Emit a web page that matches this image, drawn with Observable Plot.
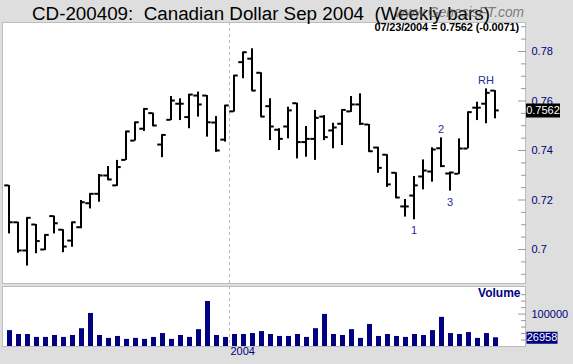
<!DOCTYPE html>
<html><head><meta charset="utf-8">
<script src="https://cdn.jsdelivr.net/npm/d3@7"></script>
<script src="https://cdn.jsdelivr.net/npm/@observablehq/plot@0.6"></script>
<style>
html,body{margin:0;padding:0;background:#dedede;}
#chart{position:relative;width:573px;height:364px;background:#dedede;overflow:hidden;font-family:"Liberation Sans",Arial,sans-serif;}
#price,#volume{position:absolute;left:0;width:573px;}
#price svg,#volume svg{display:block;}
#price{top:0;} #volume{top:283px;}
.title{position:absolute;left:32px;top:4px;font-size:18.8px;line-height:19px;white-space:pre;color:#000;z-index:2;}
.wm{position:absolute;left:395px;top:5.5px;font-size:13.8px;line-height:14px;font-style:italic;color:rgba(90,90,90,0.75);white-space:pre;z-index:3;}
.hdr{position:absolute;right:54px;top:21.5px;font-size:11px;line-height:11px;font-weight:bold;white-space:pre;color:#000;z-index:2;letter-spacing:-0.15px;}
</style></head>
<body>
<div id="chart">
  <div id="price"></div>
  <div id="volume"></div>
  <div class="title">CD-200409:  Canadian Dollar Sep 2004  (Weekly bars)</div>
  <div class="wm">www.GenesisFT.com</div>
  <div class="hdr"></div>
</div>
<script>
// ---- data (weekly bars, Jul 2003 – 07/23/2004) ----
const lastDate = "07/23/2004";
const opens = [0.7259,0.7110,0.6996,0.7101,0.7000,0.7135,0.7080,0.7036,0.7090,0.7187,
  0.7225,0.7299,0.7259,0.7362,0.7440,0.7488,0.7551,0.7424,0.7524,0.7589,
  0.7535,0.7622,0.7622,0.7513,0.7444,0.7558,0.7757,0.7771,0.7714,0.7579,
  0.7484,0.7497,0.7591,0.7434,0.7447,0.7537,0.7481,0.7508,0.7558,0.7586,
  0.7505,0.7412,0.7383,0.7310,0.7174,0.7218,0.7295,0.7315,0.7409,0.7307,
  0.7306,0.7408,0.7573,0.7589,0.7642];
const highs = [0.7259,0.7110,0.7128,0.7101,0.7059,0.7135,0.7080,0.7110,0.7198,0.7225,
  0.7303,0.7335,0.7360,0.7477,0.7514,0.7568,0.7551,0.7463,0.7618,0.7609,
  0.7626,0.7636,0.7622,0.7537,0.7582,0.7703,0.7797,0.7811,0.7714,0.7609,
  0.7488,0.7575,0.7591,0.7497,0.7562,0.7541,0.7510,0.7564,0.7618,0.7629,
  0.7505,0.7413,0.7383,0.7310,0.7202,0.7295,0.7362,0.7411,0.7451,0.7312,
  0.7447,0.7555,0.7595,0.7649,0.7642];
const lows = [0.7063,0.6985,0.6933,0.6983,0.6996,0.7063,0.6987,0.7009,0.7084,0.7164,
  0.7191,0.7279,0.7255,0.7360,0.7438,0.7477,0.7497,0.7371,0.7521,0.7521,
  0.7488,0.7535,0.7454,0.7393,0.7434,0.7555,0.7690,0.7640,0.7535,0.7440,
  0.7400,0.7447,0.7366,0.7373,0.7360,0.7440,0.7407,0.7420,0.7554,0.7501,
  0.7393,0.7308,0.7251,0.7206,0.7131,0.7120,0.7241,0.7272,0.7331,0.7236,
  0.7303,0.7407,0.7521,0.7508,0.7528];
const closes = [0.7110,0.6996,0.7128,0.7034,0.7059,0.7106,0.7012,0.7110,0.7191,0.7225,
  0.7299,0.7283,0.7333,0.7477,0.7514,0.7568,0.7501,0.7463,0.7602,0.7589,
  0.7626,0.7586,0.7514,0.7400,0.7582,0.7703,0.7797,0.7642,0.7537,0.7497,
  0.7447,0.7562,0.7434,0.7447,0.7532,0.7454,0.7493,0.7564,0.7586,0.7508,
  0.7397,0.7330,0.7263,0.7210,0.7174,0.7259,0.7319,0.7404,0.7337,0.7311,
  0.7408,0.7555,0.7573,0.7633,0.7562];
const volumes = [49000,37000,37000,28000,28000,34000,28000,34000,55000,102000,
  34000,25000,31000,22000,25000,22000,28000,40000,22000,34000,
  28000,52000,139000,34000,28000,37000,37000,40000,46000,37000,
  31000,31000,37000,28000,55000,99000,37000,34000,52000,25000,
  68000,31000,37000,31000,28000,37000,34000,49000,90000,40000,
  37000,43000,25000,40000,26958];
const yearLabel = "2004";
const yearBoundary = 24.5;            // between last week of 2003 and first week of 2004
const annoLabels = ["1","2","3","RH"];
const annoBars = [45,48,49,53];
const annoSide = ["below","above","below","above"];
const priceTickLabels = [0.70,0.72,0.74,0.76,0.78];
const priceTicksMinor = [0.69,0.695,0.705,0.71,0.715,0.725,0.73,0.735,0.745,0.75,0.755,0.765,0.77,0.775,0.785,0.79];
const volTickLabels = [100000];
const volTicksMinor = [20000,40000,60000,80000,120000,140000,160000];

// ---- build ----
const navy = "#000080";
const bars = closes.map((c,i) => ({i, o: opens[i], h: highs[i], l: lows[i], c, v: volumes[i]}));
const last = bars[bars.length-1];
const prev = bars[bars.length-2];
document.querySelector(".hdr").textContent =
  `${lastDate} = ${last.c.toFixed(4)} (${(last.c - prev.c).toFixed(4)})`;

const xScale = {domain: [-0.7222, 57.3889], axis: null};
const W = 573;
const boxSymbol = (w, h) => ({draw(ctx) { ctx.rect(-w/2, -h/2, w, h); }});
const annos = annoLabels.map((t,k) => ({t, i: annoBars[k], side: annoSide[k],
  y: annoSide[k] === "below" ? lows[annoBars[k]] : highs[annoBars[k]]}));

const price = Plot.plot({
  width: W, height: 283,
  marginLeft: 2, marginRight: 48, marginTop: 22, marginBottom: 0,
  x: xScale,
  y: {domain: [0.686263, 0.791717], label: null},
  style: {background: "transparent", fontFamily: "'Liberation Sans', Arial, sans-serif", fontSize: "11px", overflow: "visible"},
  marks: [
    Plot.frame({fill: "white", stroke: "#bdbdbd"}),
    Plot.ruleX([yearBoundary], {x: d => d, stroke: "#b8b8b8", strokeDasharray: "3,3"}),
    Plot.axisY(priceTicksMinor, {anchor: "right", tickSize: -5, stroke: "#999", tickFormat: () => "", label: null}),
    Plot.axisY(priceTickLabels, {anchor: "right", tickSize: -8, tickPadding: 14, stroke: "#999", fill: navy, fontSize: 11,
      tickFormat: d => String(+d.toFixed(2)), label: null}),
    Plot.ruleX(bars, {x: "i", y1: "l", y2: "h", stroke: "#000", strokeWidth: 2}),
    Plot.ruleY(bars, {y: "o", x1: d => d.i - 0.47, x2: "i", stroke: "#000", strokeWidth: 2}),
    Plot.ruleY(bars, {y: "c", x1: "i", x2: d => d.i + 0.47, stroke: "#000", strokeWidth: 2}),
    Plot.text(annos, {x: "i", y: "y", text: "t", fill: "#2b2b9b", fontSize: 11,
      filter: d => d.side === "below", dy: 11}),
    Plot.text(annos, {x: "i", y: "y", text: "t", fill: "#2b2b9b", fontSize: 11,
      filter: d => d.side === "above", dy: -8}),
    Plot.dot([last], {y: "c", frameAnchor: "right", dx: 17.5, symbol: boxSymbol(34, 14), fill: "#000", stroke: null}),
    Plot.text([last], {y: "c", frameAnchor: "right", dx: 17.5, text: d => d.c.toFixed(4), fill: "white", fontSize: 11, textAnchor: "middle"})
  ]
});
document.getElementById("price").appendChild(price);

const volume = Plot.plot({
  width: W, height: 81,
  marginLeft: 2, marginRight: 48, marginTop: 3, marginBottom: 18,
  x: xScale,
  y: {domain: [0, 185185], label: null},
  style: {background: "transparent", fontFamily: "'Liberation Sans', Arial, sans-serif", fontSize: "11px", overflow: "visible"},
  marks: [
    Plot.frame({fill: "white", stroke: "#bdbdbd"}),
    Plot.ruleX([yearBoundary], {x: d => d, stroke: "#b8b8b8", strokeDasharray: "3,3"}),
    Plot.axisY(volTicksMinor, {anchor: "right", tickSize: -5, stroke: "#999", tickFormat: () => "", label: null}),
    Plot.axisY(volTickLabels, {anchor: "right", tickSize: -8, tickPadding: 14, stroke: "#999", fill: navy, fontSize: 11,
      tickFormat: d => String(d), label: null}),
    Plot.ruleX(bars, {x: "i", y1: 0, y2: "v", stroke: navy, strokeWidth: 5, dx: 0.5}),
    Plot.text(["Volume"], {frameAnchor: "top-right", dx: -5, dy: 2, lineAnchor: "top", textAnchor: "end",
      fontWeight: "bold", fontSize: 12, fill: navy}),
    Plot.text([yearBoundary], {x: d => d, frameAnchor: "bottom", dy: 8, dx: 1, textAnchor: "start",
      text: () => yearLabel, fill: navy, fontSize: 11}),
    Plot.dot([last], {y: "v", frameAnchor: "right", dx: 16.5, symbol: boxSymbol(31, 12), fill: navy, stroke: null}),
    Plot.text([last], {y: "v", frameAnchor: "right", dx: 16.5, text: d => String(d.v), fill: "white", fontSize: 11, textAnchor: "middle"})
  ]
});
document.getElementById("volume").appendChild(volume);
</script>
</body></html>
